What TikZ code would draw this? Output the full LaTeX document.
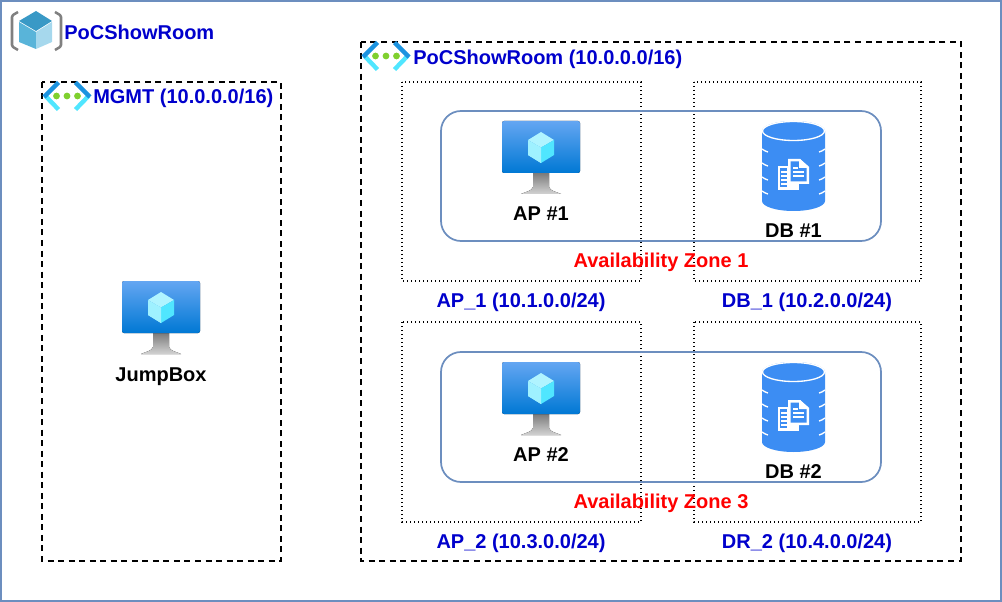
\documentclass[tikz,border=0pt]{standalone}
\usepackage{fontspec}
\setmainfont{Liberation Sans}
\usetikzlibrary{calc}
\definecolor{frameblue}{HTML}{6C8EBF}
\definecolor{labelblue}{HTML}{0000CC}
\definecolor{vmtop}{HTML}{64A6F2}
\definecolor{vmbottom}{HTML}{0078D4}
\definecolor{dbblue}{HTML}{3C8DF3}
\definecolor{vnetdark}{HTML}{1B93E0}
\definecolor{vnetlight}{HTML}{50E6FF}
\definecolor{vnetgreen}{HTML}{7FD02E}
\definecolor{rgtop}{HTML}{3999C6}
\definecolor{rgleft}{HTML}{59B4D9}
\definecolor{rgright}{HTML}{A6D8ED}
\tikzset{
    vmicon/.pic={
        \fill[bottom color=gray!35, top color=gray!85!black!90] (31,52) -- (47,52) -- (47,66) .. controls (48,70) and (55,71) .. (59,73) -- (19,73) .. controls (23,71) and (30,70) .. (31,66) -- cycle;
        \fill[rounded corners=1.5pt, top color=vmtop, bottom color=vmbottom] (0,0) rectangle (78,52);
        \fill[white!55!vnetlight] (39,11) -- (52,19) -- (39,26.5) -- (26,19) -- cycle;
        \fill[vnetlight!55!white] (26,19) -- (39,26.5) -- (39,42) -- (26,34) -- cycle;
        \fill[vnetlight] (52,19) -- (39,26.5) -- (39,42) -- (52,34) -- cycle;
        \fill[white!45!vnetlight] (26,34) -- (39,26.5) -- (39,42) -- cycle;
    },
    dbicon/.pic={
        \fill[dbblue] (0,10) arc[start angle=180, end angle=360, x radius=31.5, y radius=10] -- (63,80) arc[start angle=0, end angle=180, x radius=31.5, y radius=10] -- cycle;
        \draw[white, line width=1pt] (31.5,10) ellipse[x radius=31, y radius=9.5];
        \foreach \stripe in {28,42,56,70} {
            \draw[white, line width=1pt] (0,\stripe) .. controls (2,\stripe+1.5) and (4,\stripe+2.5) .. (6,\stripe+3);
            \draw[white, line width=1pt] (63,\stripe) .. controls (61,\stripe+1.5) and (59,\stripe+2.5) .. (57,\stripe+3);
        }
        \fill[white] (15.5,45) -- (27,45) -- (27,69) -- (15.5,69) -- cycle;
        \fill[white] (26,58) rectangle (37,69);
        \fill[dbblue] (18,47) rectangle (25,66);
        \draw[white, line width=1pt] (19,51) -- (26,51) (19,55) -- (26,55) (19,59) -- (26,59) (19,63) -- (26,63);
        \fill[white] (26,38) -- (38,38) -- (47,46) -- (47,63) -- (26,63) -- cycle;
        \fill[dbblue] (28.5,40.5) -- (37,40.5) -- (44.5,47) -- (44.5,60.5) -- (28.5,60.5) -- cycle;
        \fill[white] (37,40) -- (38,38) -- (47,46) -- (45,47) -- (37,47) -- cycle;
        \draw[white, line width=1pt] (31,47) -- (36,47) (31,51) -- (42,51) (31,55) -- (42,55);
    },
    vneticon/.pic={
        \draw[vnetlight, line width=3.3pt] (3,15) -- (16,28.5);
        \draw[vnetdark, line width=3.3pt] (16,1.5) -- (1.5,16);
        \draw[vnetlight, line width=3.3pt] (46,15) -- (33,28.5);
        \draw[vnetdark, line width=3.3pt] (33,1.5) -- (47.5,16);
        \foreach \dotx in {14,24.5,35} {
            \fill[vnetgreen] (\dotx,15) circle[radius=3.4];
        }
    },
    rgicon/.pic={
        \draw[gray, line width=1.9pt, line join=round] (7,1) -- (2,4) -- (1,6) -- (1,34) -- (2,36) -- (7,39);
        \draw[gray, line width=1.9pt, line join=round] (44,1) -- (49,4) -- (50,6) -- (50,34) -- (49,36) -- (44,39);
        \fill[rgtop] (25,0) -- (41,10) -- (25,20) -- (8,10) -- cycle;
        \fill[rgleft] (8,11) -- (25,21) -- (25,38) -- (8,31) -- cycle;
        \fill[rgright] (41,11) -- (25,21) -- (25,38) -- (41,31) -- cycle;
    },
}
\begin{document}
\begin{tikzpicture}
    [x=0.75pt, y=-0.75pt,
    every node/.style={font=\fontsize{15pt}{18pt}\selectfont\bfseries},
    netlabel/.style={text=labelblue, inner sep=0pt},
    hostlabel/.style={text=black, inner sep=0pt},
    zonelabel/.style={text=red, inner sep=0pt},
    vnetbox/.style={draw=black, line width=1.1pt, dash pattern=on 4.5pt off 3.4pt},
    subnetbox/.style={draw=black, line width=0.9pt, dash pattern=on 0.9pt off 2.1pt},
    zonebox/.style={draw=frameblue, line width=1.3pt, rounded corners=15pt}
    ]
    \useasboundingbox (0,0) rectangle (1002,602);
    \draw[frameblue, line width=1.1pt] (1,1) rectangle (1001,601);

    % boxes
    \draw[vnetbox] (42,82) rectangle (281,561);
    \draw[vnetbox] (361,42) rectangle (961,561);
    \draw[subnetbox] (402,82) rectangle (641,281);
    \draw[subnetbox] (694,82) rectangle (921,281);
    \draw[subnetbox] (402,322) rectangle (641,522);
    \draw[subnetbox] (694,322) rectangle (921,522);
    \draw[zonebox] (441,111) rectangle (881,241);
    \draw[zonebox] (441,352) rectangle (881,482);

    % icons
    \pic at (11,11) {rgicon};
    \pic at (42.5,81) {vneticon};
    \pic at (361.5,41) {vneticon};
    \pic at (122,281) {vmicon};
    \pic at (502,121) {vmicon};
    \pic at (502,362) {vmicon};
    \pic at (762,121) {dbicon};
    \pic at (762,362) {dbicon};

    % labels
    \node (rgname) [netlabel, anchor=west] at (64,32) {PoCShowRoom};
    \node (mgmtname) [netlabel, anchor=west] at (93,98) {MGMT (10.0.0.0/16)};
    \node (vnetname) [netlabel, anchor=west] at (413,59) {PoCShowRoom (10.0.0.0/16)};
    \node (ap1net) [netlabel] at (521,302) {AP\_1 (10.1.0.0/24)};
    \node (db1net) [netlabel] at (807,302) {DB\_1 (10.2.0.0/24)};
    \node (ap2net) [netlabel] at (521,543) {AP\_2 (10.3.0.0/24)};
    \node (dr2net) [netlabel] at (807,543) {DR\_2 (10.4.0.0/24)};
    \node (jumpbox) [hostlabel] at (161,377) {JumpBox};
    \node (ap1) [hostlabel] at (541,214) {AP \#1};
    \node (ap2) [hostlabel] at (541,455) {AP \#2};
    \node (db1) [hostlabel] at (793.5,231) {DB \#1};
    \node (db2) [hostlabel] at (793.5,472) {DB \#2};
    \node (zone1) [zonelabel] at (661,262) {Availability Zone 1};
    \node (zone3) [zonelabel] at (661,503) {Availability Zone 3};
\end{tikzpicture}
\end{document}
